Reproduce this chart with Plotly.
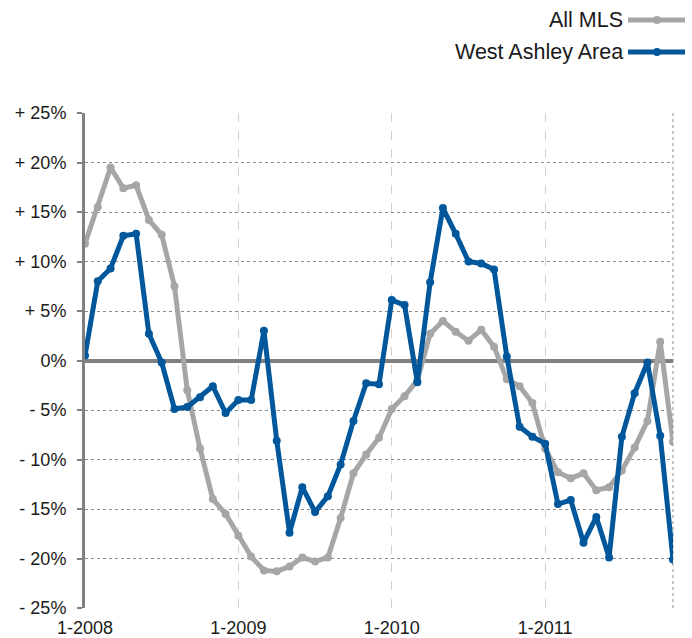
import plotly.graph_objects as go

months = [f"{m}-{y}" for y in range(2008, 2012) for m in range(1, 13)][:47]

all_mls = [11.8, 15.5, 19.5, 17.4, 17.7, 14.2, 12.7, 7.5, -3.0, -8.9, -14.0, -15.5,
           -17.7, -19.8, -21.2, -21.3, -20.8, -19.9, -20.3, -19.9, -15.9, -11.4, -9.5, -7.8,
           -4.9, -3.6, -2.0, 2.7, 4.0, 2.9, 2.0, 3.1, 1.4, -1.9, -2.6, -4.3,
           -8.9, -11.3, -11.9, -11.4, -13.1, -12.8, -11.1, -8.8, -6.1, 1.9, -8.2]

west_ashley = [0.5, 8.0, 9.3, 12.6, 12.8, 2.7, -0.2, -4.9, -4.7, -3.7, -2.6, -5.3,
               -4.0, -4.0, 3.0, -8.1, -17.4, -12.8, -15.3, -13.7, -10.5, -6.1, -2.3, -2.4,
               6.1, 5.6, -2.2, 7.9, 15.4, 12.8, 10.0, 9.8, 9.2, 0.4, -6.7, -7.7,
               -8.4, -14.5, -14.1, -18.4, -15.8, -19.9, -7.7, -3.3, -0.2, -7.6, -20.1]

year_ticks = ["1-2008", "1-2009", "1-2010", "1-2011"]
y_ticks = [25, 20, 15, 10, 5, 0, -5, -10, -15, -20, -25]
y_labels = ["+ 25%", "+ 20%", "+ 15%", "+ 10%", "+ 5%", "0%",
            "- 5%", "- 10%", "- 15%", "- 20%", "- 25%"]
series_names = ["All MLS", "West Ashley Area"]

GRAY = "#a6a6a6"
BLUE = "#00579b"
FONT = "Liberation Sans, Arial, sans-serif"

L, R, T, B = 85, 19, 113, 30
PW, PH = 692 - L - R, 638 - T - B

fig = go.Figure()
fig.add_trace(go.Scatter(x=months, y=all_mls, name=series_names[0], mode="lines+markers",
                         line=dict(color=GRAY, width=5), marker=dict(color=GRAY, size=8),
                         showlegend=False))
fig.add_trace(go.Scatter(x=months, y=west_ashley, name=series_names[1], mode="lines+markers",
                         line=dict(color=BLUE, width=5), marker=dict(color=BLUE, size=8),
                         showlegend=False))

fig.update_layout(
    width=692, height=638,
    margin=dict(l=L, r=R, t=T, b=B, autoexpand=False),
    paper_bgcolor="white", plot_bgcolor="white",
    font=dict(family=FONT, size=18, color="#1a1a1a"),
    xaxis=dict(type="category", range=[0, 46], tickvals=year_ticks, ticktext=year_ticks,
               showgrid=True, gridcolor="#d0d0d0", griddash="dash", gridwidth=1,
               showline=False, ticks="", ticklabelstandoff=7, zeroline=False,
               automargin=False, tickfont=dict(size=18)),
    yaxis=dict(range=[-25, 25], tickvals=y_ticks, ticktext=y_labels,
               showgrid=True, gridcolor="#8c8c8c", griddash="dot", gridwidth=1,
               showline=True, linecolor="#808080", linewidth=3,
               ticks="outside", ticklen=5, tickwidth=2, tickcolor="#808080",
               ticklabelstandoff=7, automargin=False,
               zeroline=True, zerolinecolor="#808080", zerolinewidth=4,
               tickfont=dict(size=18)),
)

# right border (dotted)
fig.add_shape(type="line", xref="paper", yref="paper", x0=1, x1=1, y0=0, y1=1,
              line=dict(color="#8c8c8c", width=1, dash="dot"), layer="below")

# custom legend: text on the left, sample on the right
legend_rows = [(series_names[0], GRAY, 20), (series_names[1], BLUE, 52)]
for name, col, py in legend_rows:
    yp = (638 - B - py) / PH
    fig.add_annotation(text=name, xref="paper", yref="paper", x=(625 - L) / PW, y=yp,
                       xanchor="right", yanchor="middle", showarrow=False,
                       font=dict(size=21.5, family=FONT, color="#1a1a1a"))
    fig.add_shape(type="line", xref="paper", yref="paper",
                  x0=(628 - L) / PW, x1=(685 - L) / PW, y0=yp, y1=yp,
                  line=dict(color=col, width=5))
    fig.add_shape(type="circle", xref="paper", yref="paper",
                  xsizemode="pixel", ysizemode="pixel",
                  xanchor=(657 - L) / PW, yanchor=yp,
                  x0=-4, x1=4, y0=-4, y1=4,
                  line=dict(color=col, width=0), fillcolor=col)

fig.write_html("out.html", config={"displayModeBar": False},
               post_script="document.body.style.margin='0';document.body.style.padding='0';")
